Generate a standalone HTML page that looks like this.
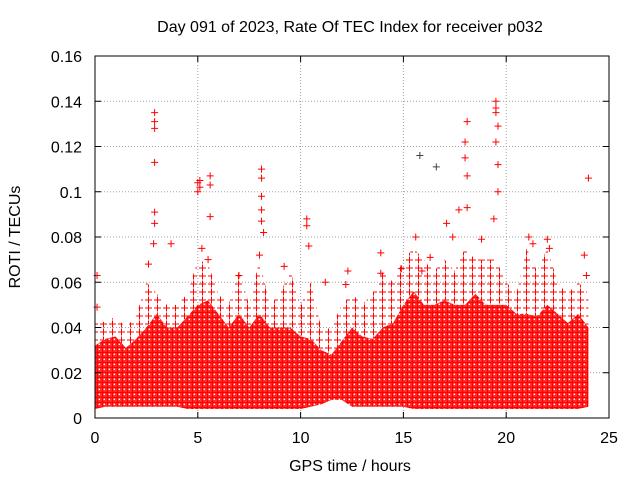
<!DOCTYPE html>
<html><head><meta charset="utf-8"><style>
html,body{margin:0;padding:0;background:#fff;}
svg{display:block;font-family:"Liberation Sans",sans-serif;}
</style></head><body>
<svg id="chart" width="640" height="480" viewBox="0 0 640 480">
<defs>
<pattern id="plus" width="5" height="5" patternUnits="userSpaceOnUse">
<rect width="5" height="5" fill="#ff3030"/>
<path d="M0 2.5H5M2.5 0V5" stroke="#ff0000" stroke-width="1.2"/>
<rect x="3.6" y="3.6" width="1.4" height="1.4" fill="#ffffff"/>
</pattern>
<pattern id="sparse" width="9" height="8" patternUnits="userSpaceOnUse">
<path d="M1 4H8M4.5 0.5V7.5" stroke="#ff0000" stroke-width="1"/>
</pattern>
</defs>
<text x="350" y="32" font-size="16" text-anchor="middle">Day 091 of 2023, Rate Of TEC Index for receiver p032</text>
<text x="350" y="471" font-size="16" text-anchor="middle">GPS time / hours</text>
<text transform="translate(20,237) rotate(-90)" font-size="16" text-anchor="middle">ROTI / TECUs</text>
<g id="grid"></g><g id="band"></g><g id="pts"></g><g id="axes"></g>
</svg>
<script>
const xTicks=[0,5,10,15,20,25];
const yTicks=[0,0.02,0.04,0.06,0.08,0.1,0.12,0.14,0.16];
const yTickLabels=["0","0.02","0.04","0.06","0.08","0.1","0.12","0.14","0.16"];
const bandTimes=[0,0.5,1,1.5,2,2.5,3,3.5,4,4.5,5,5.5,6,6.5,7,7.5,8,8.5,9,9.5,10,10.5,11,11.5,12,12.5,13,13.5,14,14.5,15,15.5,16,16.5,17,17.5,18,18.5,19,19.5,20,20.5,21,21.5,22,22.5,23,23.5,24];
const bandUpper=[0.032,0.035,0.036,0.031,0.035,0.04,0.046,0.04,0.04,0.045,0.05,0.052,0.046,0.04,0.046,0.04,0.046,0.04,0.04,0.04,0.036,0.035,0.03,0.028,0.034,0.04,0.036,0.035,0.04,0.042,0.05,0.056,0.05,0.05,0.052,0.05,0.05,0.055,0.05,0.05,0.05,0.046,0.046,0.045,0.05,0.046,0.042,0.046,0.04];
const bandPeak=[0.045,0.042,0.045,0.04,0.045,0.06,0.055,0.05,0.05,0.055,0.07,0.068,0.055,0.05,0.065,0.05,0.07,0.05,0.055,0.065,0.05,0.06,0.04,0.04,0.05,0.055,0.05,0.055,0.065,0.06,0.07,0.075,0.07,0.065,0.07,0.065,0.075,0.07,0.07,0.07,0.06,0.055,0.075,0.065,0.075,0.06,0.055,0.06,0.055];
const bandLower=[0.004,0.005,0.005,0.005,0.005,0.005,0.005,0.005,0.005,0.004,0.004,0.004,0.004,0.004,0.004,0.004,0.004,0.004,0.004,0.004,0.004,0.005,0.006,0.008,0.008,0.005,0.005,0.005,0.005,0.005,0.005,0.004,0.004,0.004,0.004,0.004,0.004,0.004,0.004,0.004,0.004,0.004,0.004,0.004,0.004,0.004,0.004,0.004,0.005];
const outT=[0.1,0.1,2.9,2.9,2.9,2.9,2.9,2.9,2.85,2.6,3.7,5.0,5.0,5.1,5.1,5.2,5.6,5.6,5.6,5.5,8.1,8.1,8.1,8.1,8.1,8.2,8.0,10.3,10.3,10.4,9.2,7.0,13.9,13.9,15.6,15.8,16.6,17.1,17.7,17.4,18.1,18.0,18.0,18.1,18.1,18.8,19.5,19.5,19.5,19.6,19.5,19.6,19.6,19.4,21.1,21.3,22.0,22.1,23.8,24.0,23.9,16.3,15.9,12.3,11.2,12.2,14.9];
const outV=[0.063,0.049,0.135,0.131,0.128,0.113,0.091,0.086,0.077,0.068,0.077,0.104,0.1,0.102,0.105,0.075,0.107,0.103,0.089,0.07,0.11,0.106,0.098,0.092,0.087,0.082,0.072,0.088,0.085,0.076,0.067,0.063,0.073,0.064,0.08,0.116,0.111,0.086,0.092,0.08,0.131,0.122,0.115,0.107,0.093,0.079,0.14,0.137,0.135,0.129,0.122,0.112,0.1,0.088,0.08,0.077,0.079,0.075,0.072,0.106,0.063,0.071,0.065,0.065,0.06,0.059,0.066];
const outGray=[15.8,16.6];

const X0=95,X1=609,Y0=418,Y1=56;
const sx=t=>X0+(t-0)/(25-0)*(X1-X0);
const sy=v=>Y0-(v-0)/(0.16-0)*(Y0-Y1);
const NS="http://www.w3.org/2000/svg";
function mk(tag,attrs,parent){const e=document.createElementNS(NS,tag);for(const k in attrs)e.setAttribute(k,attrs[k]);parent.appendChild(e);return e;}
const grid=document.getElementById('grid'),axes=document.getElementById('axes'),band=document.getElementById('band'),pts=document.getElementById('pts');
xTicks.forEach(t=>{
 if(t>0&&t<25){const g=mk('line',{x1:sx(t),x2:sx(t),y1:Y1,y2:Y0,stroke:'#a0a0a0','stroke-dasharray':'1,2'},grid);
 
 }
 const l=mk('text',{x:sx(t),y:Y0+25,'font-size':16,'text-anchor':'middle'},axes);l.textContent=t;
 
 
 mk('line',{x1:sx(t),x2:sx(t),y1:Y0,y2:Y0-6,stroke:'#000'},axes);
 mk('line',{x1:sx(t),x2:sx(t),y1:Y1,y2:Y1+6,stroke:'#000'},axes);
});
yTicks.forEach((v,i)=>{
 if(v>0&&v<0.16){const g=mk('line',{x1:X0,x2:X1,y1:sy(v),y2:sy(v),stroke:'#a0a0a0','stroke-dasharray':'1,2'},grid);
 
 }
 const l=mk('text',{x:X0-13,y:sy(v)+6,'font-size':16,'text-anchor':'end'},axes);l.textContent=yTickLabels[i];
 
 
 mk('line',{x1:X0,x2:X0+6,y1:sy(v),y2:sy(v),stroke:'#000'},axes);
 mk('line',{x1:X1,x2:X1-6,y1:sy(v),y2:sy(v),stroke:'#000'},axes);
});
const frame=mk('rect',{x:X0,y:Y1,width:X1-X0,height:Y0-Y1,fill:'none',stroke:'#000'},axes);


function bandPath(up,lo){
 let d='M'+sx(bandTimes[0])+' '+sy(up[0]);
 for(let i=1;i<bandTimes.length;i++)d+=' L'+sx(bandTimes[i])+' '+sy(up[i]);
 for(let i=bandTimes.length-1;i>=0;i--)d+=' L'+sx(bandTimes[i])+' '+sy(lo[i]);
 return d+'Z';
}
const sp=mk('path',{d:bandPath(bandPeak,bandUpper),fill:'url(#sparse)'},band);


const bp=mk('path',{d:bandPath(bandUpper,bandLower),fill:'url(#plus)'},band);


outT.forEach((t,i)=>{
 const x=sx(t),y=sy(outV[i]);const c=outGray.includes(t)?'#404040':'#ff0000';
 const p=mk('path',{d:`M${x-3.5} ${y}H${x+3.5}M${x} ${y-3.5}V${y+3.5}`,stroke:c,'stroke-width':1},pts);
 
 
});
</script>
</body></html>
